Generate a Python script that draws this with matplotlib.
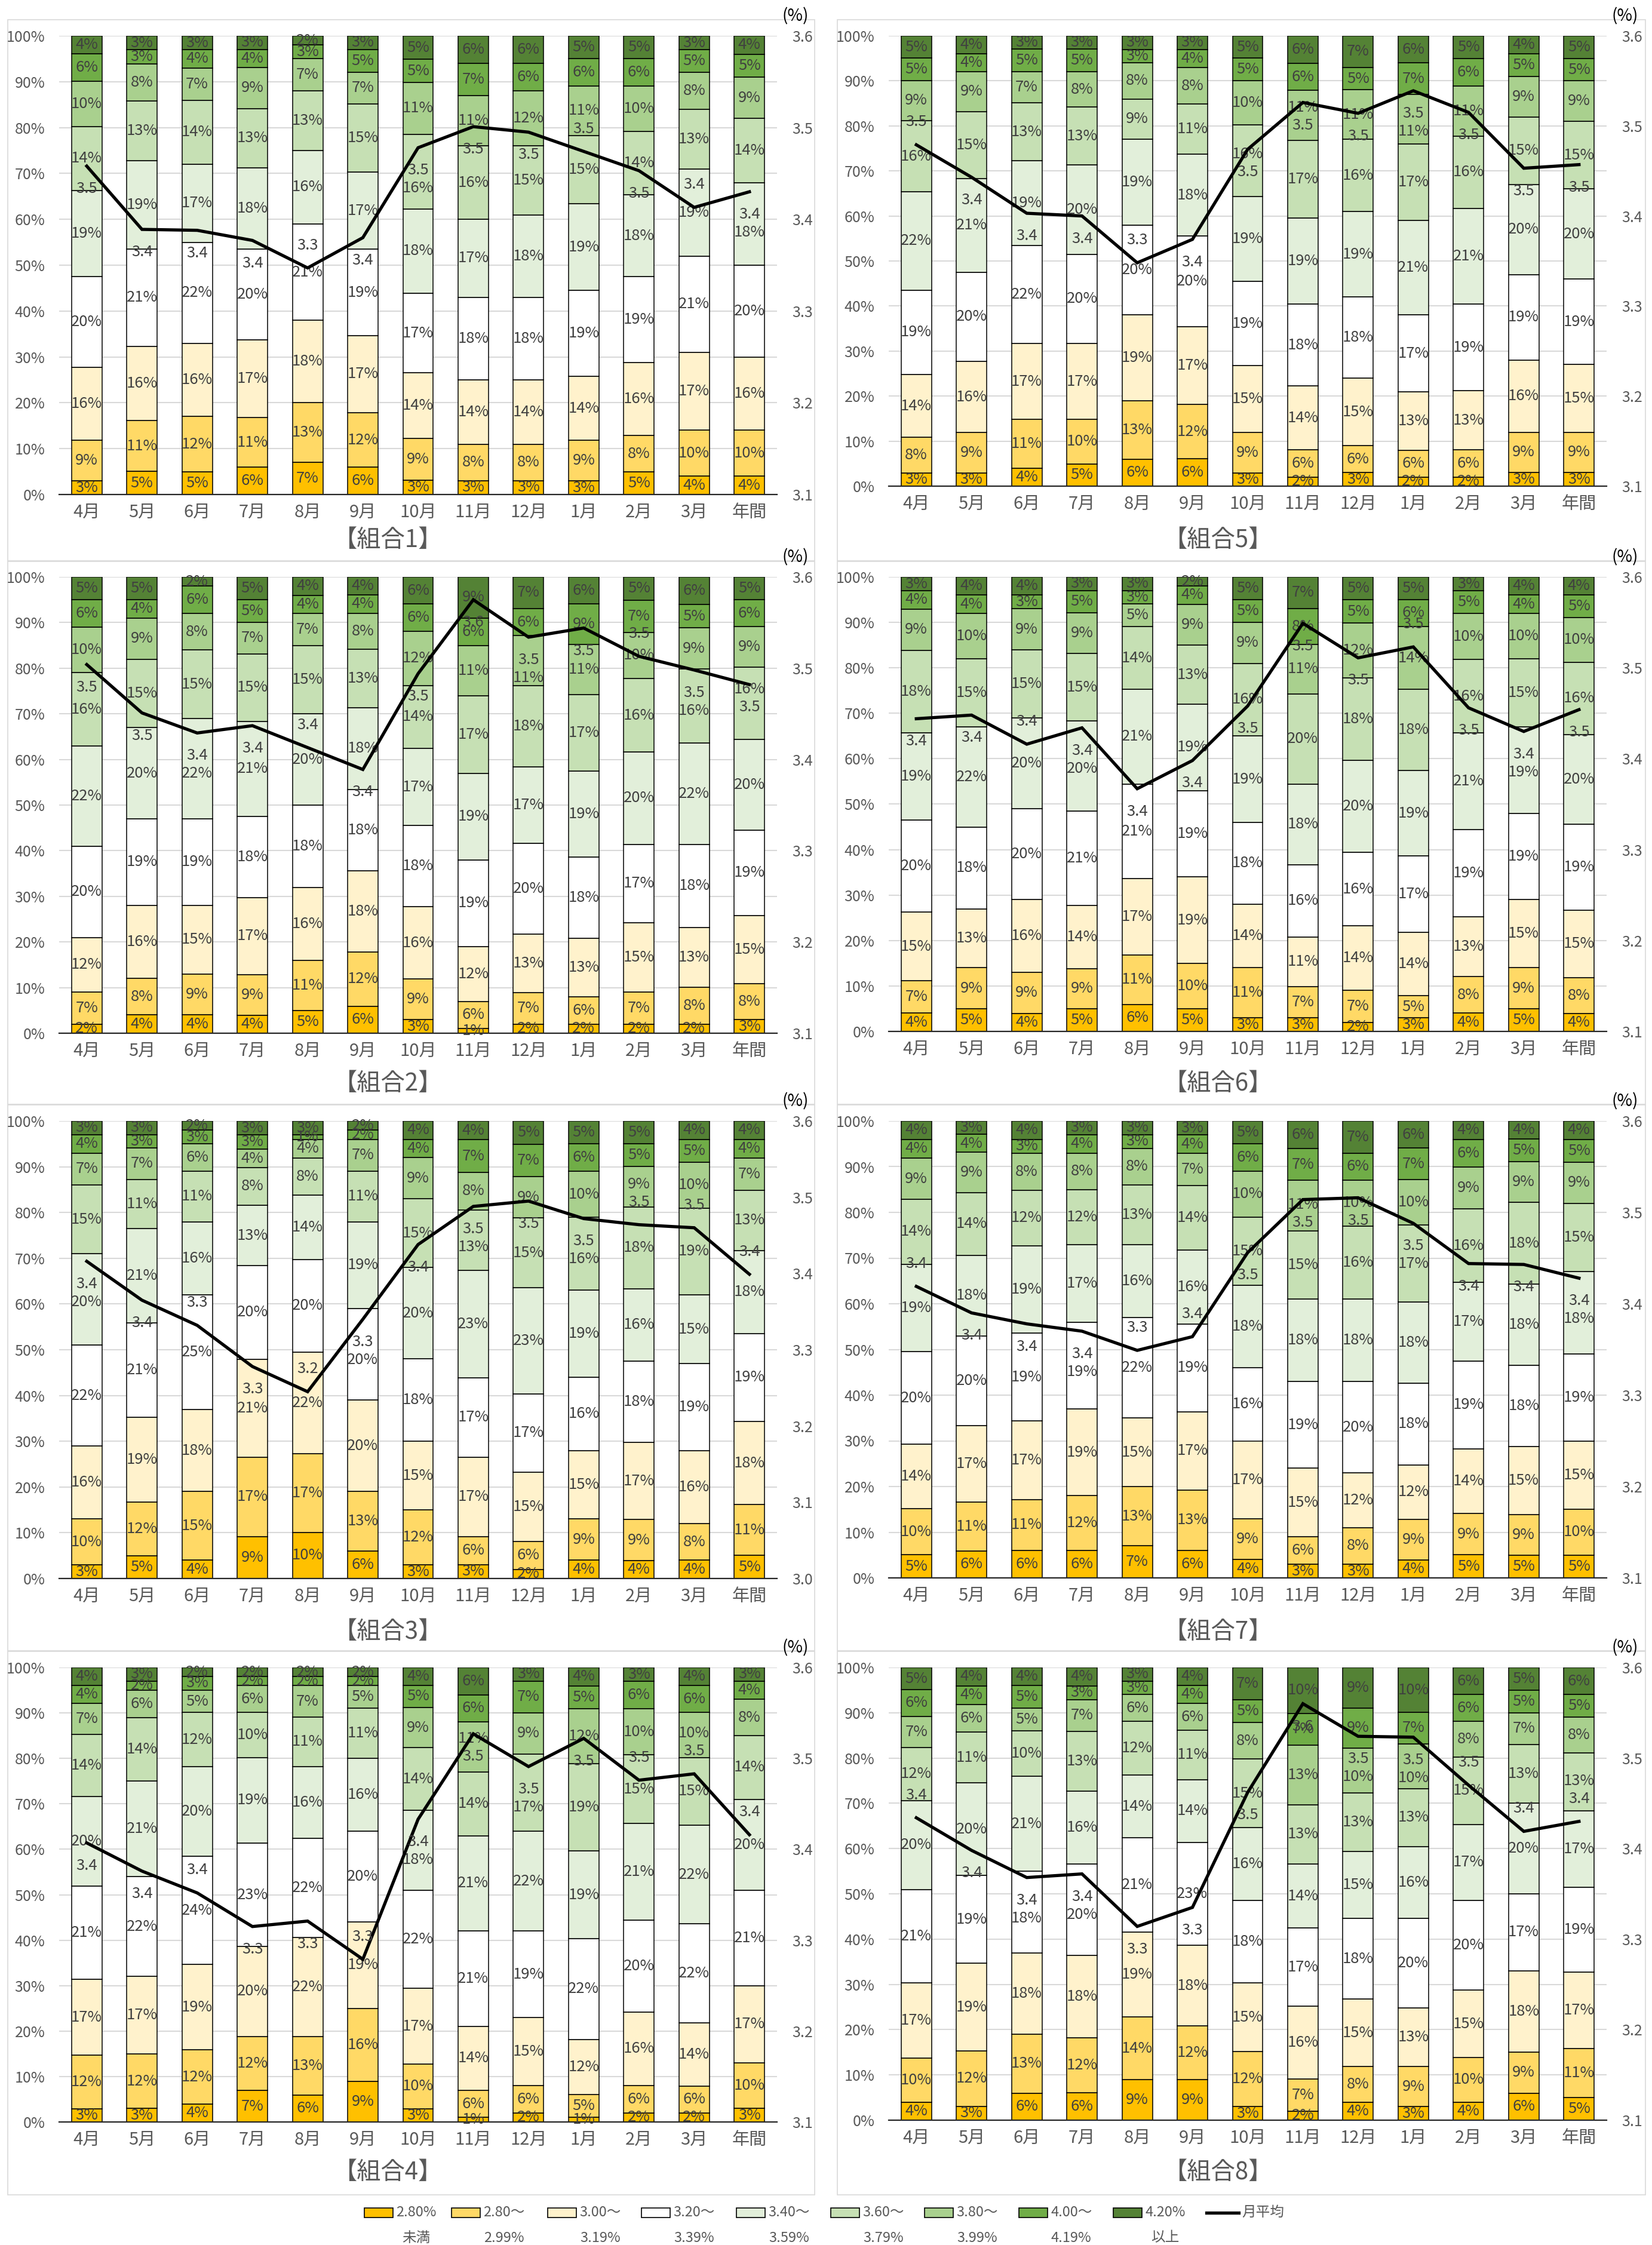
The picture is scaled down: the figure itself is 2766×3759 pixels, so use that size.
import numpy as np
import matplotlib
matplotlib.use("Agg")
import matplotlib.pyplot as plt
from matplotlib.patches import Rectangle
from matplotlib.lines import Line2D
from matplotlib.ticker import FuncFormatter, MultipleLocator

plt.rcParams['font.family'] = ['Noto Sans CJK JP', 'DejaVu Sans']

W, H = 2766, 3759

months = ["4月", "5月", "6月", "7月", "8月", "9月", "10月", "11月", "12月",
          "1月", "2月", "3月", "年間"]

band_labels = ["2.80%\n未満", "2.80～\n2.99%", "3.00～\n3.19%", "3.20～\n3.39%",
               "3.40～\n3.59%", "3.60～\n3.79%", "3.80～\n3.99%", "4.00～\n4.19%",
               "4.20%\n以上"]
band_colors = ["#FFC000", "#FFD966", "#FFF2CC", "#FFFFFF", "#E2EFDA",
               "#C6E0B4", "#A9D08E", "#70AD47", "#548235"]
line_label = "月平均"

# share of each rate band (%), one row per month, bands from low to high
k1_share = [[3, 9, 16, 20, 19, 14, 10, 6, 4],
            [5, 11, 16, 21, 19, 13, 8, 3, 3],
            [5, 12, 16, 22, 17, 14, 7, 4, 3],
            [6, 11, 17, 20, 18, 13, 9, 4, 3],
            [7, 13, 18, 21, 16, 13, 7, 3, 2],
            [6, 12, 17, 19, 17, 15, 7, 5, 3],
            [3, 9, 14, 17, 18, 16, 11, 5, 5],
            [3, 8, 14, 18, 17, 16, 11, 7, 6],
            [3, 8, 14, 18, 18, 15, 12, 6, 6],
            [3, 9, 14, 19, 19, 15, 11, 6, 5],
            [5, 8, 16, 19, 18, 14, 10, 6, 5],
            [4, 10, 17, 21, 19, 13, 8, 5, 3],
            [4, 10, 16, 20, 18, 14, 9, 5, 4]]
k1_avg = [3.458, 3.389, 3.388, 3.377, 3.347, 3.380, 3.478, 3.501, 3.495,
          3.474, 3.453, 3.413, 3.430]

k2_share = [[2, 7, 12, 20, 22, 16, 10, 6, 5],
            [4, 8, 16, 19, 20, 15, 9, 4, 5],
            [4, 9, 15, 19, 22, 15, 8, 6, 2],
            [4, 9, 17, 18, 21, 15, 7, 5, 5],
            [5, 11, 16, 18, 20, 15, 7, 4, 4],
            [6, 12, 18, 18, 18, 13, 8, 4, 4],
            [3, 9, 16, 18, 17, 14, 12, 6, 6],
            [1, 6, 12, 19, 19, 17, 11, 6, 9],
            [2, 7, 13, 20, 17, 18, 11, 6, 7],
            [2, 6, 13, 18, 19, 17, 11, 9, 6],
            [2, 7, 15, 17, 20, 16, 10, 7, 5],
            [2, 8, 13, 18, 22, 16, 9, 5, 6],
            [3, 8, 15, 19, 20, 16, 9, 6, 5]]
k2_avg = [3.504, 3.451, 3.429, 3.437, 3.413, 3.389, 3.494, 3.575, 3.534,
          3.544, 3.513, 3.498, 3.482]

k3_share = [[3, 10, 16, 22, 20, 15, 7, 4, 3],
            [5, 12, 19, 21, 21, 11, 7, 3, 3],
            [4, 15, 18, 25, 16, 11, 6, 3, 2],
            [9, 17, 21, 20, 13, 8, 4, 3, 3],
            [10, 17, 22, 20, 14, 8, 4, 1, 3],
            [6, 13, 20, 20, 19, 11, 7, 2, 2],
            [3, 12, 15, 18, 20, 15, 9, 4, 4],
            [3, 6, 17, 17, 23, 13, 8, 7, 4],
            [2, 6, 15, 17, 23, 15, 9, 7, 5],
            [4, 9, 15, 16, 19, 16, 10, 6, 5],
            [4, 9, 17, 18, 16, 18, 9, 5, 5],
            [4, 8, 16, 19, 15, 19, 10, 5, 4],
            [5, 11, 18, 19, 18, 13, 7, 4, 4]]
k3_avg = [3.416, 3.365, 3.332, 3.278, 3.245, 3.340, 3.438, 3.488, 3.495,
          3.472, 3.464, 3.460, 3.399]

k4_share = [[3, 12, 17, 21, 20, 14, 7, 4, 4],
            [3, 12, 17, 22, 21, 14, 6, 2, 3],
            [4, 12, 19, 24, 20, 12, 5, 3, 2],
            [7, 12, 20, 23, 19, 10, 6, 2, 2],
            [6, 13, 22, 22, 16, 11, 7, 2, 2],
            [9, 16, 19, 20, 16, 11, 5, 2, 2],
            [3, 10, 17, 22, 18, 14, 9, 5, 4],
            [1, 6, 14, 21, 21, 14, 11, 6, 6],
            [2, 6, 15, 19, 22, 17, 9, 7, 3],
            [1, 5, 12, 22, 19, 19, 12, 5, 4],
            [2, 6, 16, 20, 21, 15, 10, 6, 3],
            [2, 6, 14, 22, 22, 15, 10, 6, 4],
            [3, 10, 17, 21, 20, 14, 8, 4, 3]]
k4_avg = [3.407, 3.376, 3.352, 3.315, 3.321, 3.279, 3.433, 3.527, 3.491,
          3.522, 3.476, 3.483, 3.416]

k5_share = [[3, 8, 14, 19, 22, 16, 9, 5, 5],
            [3, 9, 16, 20, 21, 15, 9, 4, 4],
            [4, 11, 17, 22, 19, 13, 7, 5, 3],
            [5, 10, 17, 20, 20, 13, 8, 5, 3],
            [6, 13, 19, 20, 19, 9, 8, 3, 3],
            [6, 12, 17, 20, 18, 11, 8, 4, 3],
            [3, 9, 15, 19, 19, 16, 10, 5, 5],
            [2, 6, 14, 18, 19, 17, 11, 6, 6],
            [3, 6, 15, 18, 19, 16, 11, 5, 7],
            [2, 6, 13, 17, 21, 17, 11, 7, 6],
            [2, 6, 13, 19, 21, 16, 11, 6, 5],
            [3, 9, 16, 19, 20, 15, 9, 5, 4],
            [3, 9, 15, 19, 20, 15, 9, 5, 5]]
k5_avg = [3.479, 3.443, 3.403, 3.400, 3.348, 3.374, 3.474, 3.526, 3.514,
          3.539, 3.515, 3.453, 3.457]

k6_share = [[4, 7, 15, 20, 19, 18, 9, 4, 3],
            [5, 9, 13, 18, 22, 15, 10, 4, 4],
            [4, 9, 16, 20, 20, 15, 9, 3, 4],
            [5, 9, 14, 21, 20, 15, 9, 5, 3],
            [6, 11, 17, 21, 21, 14, 5, 3, 3],
            [5, 10, 19, 19, 19, 13, 9, 4, 2],
            [3, 11, 14, 18, 19, 16, 9, 5, 5],
            [3, 7, 11, 16, 18, 20, 11, 8, 7],
            [2, 7, 14, 16, 20, 18, 12, 5, 5],
            [3, 5, 14, 17, 19, 18, 14, 6, 5],
            [4, 8, 13, 19, 21, 16, 10, 5, 3],
            [5, 9, 15, 19, 19, 15, 10, 4, 4],
            [4, 8, 15, 19, 20, 16, 10, 5, 4]]
k6_avg = [3.444, 3.448, 3.416, 3.434, 3.367, 3.398, 3.458, 3.549, 3.511,
          3.523, 3.456, 3.430, 3.454]

k7_share = [[5, 10, 14, 20, 19, 14, 9, 4, 4],
            [6, 11, 17, 20, 18, 14, 9, 4, 3],
            [6, 11, 17, 19, 19, 12, 8, 3, 4],
            [6, 12, 19, 19, 17, 12, 8, 4, 3],
            [7, 13, 15, 22, 16, 13, 8, 3, 3],
            [6, 13, 17, 19, 16, 14, 7, 4, 3],
            [4, 9, 17, 16, 18, 15, 10, 6, 5],
            [3, 6, 15, 19, 18, 15, 11, 7, 6],
            [3, 8, 12, 20, 18, 16, 10, 6, 7],
            [4, 9, 12, 18, 18, 17, 10, 7, 6],
            [5, 9, 14, 19, 17, 16, 9, 6, 4],
            [5, 9, 15, 18, 18, 18, 9, 5, 4],
            [5, 10, 15, 19, 18, 15, 9, 5, 4]]
k7_avg = [3.419, 3.390, 3.378, 3.370, 3.349, 3.364, 3.456, 3.514, 3.516,
          3.488, 3.444, 3.443, 3.428]

k8_share = [[4, 10, 17, 21, 20, 12, 7, 6, 5],
            [3, 12, 19, 19, 20, 11, 6, 4, 4],
            [6, 13, 18, 18, 21, 10, 5, 5, 4],
            [6, 12, 18, 20, 16, 13, 7, 3, 4],
            [9, 14, 19, 21, 14, 12, 6, 3, 3],
            [9, 12, 18, 23, 14, 11, 6, 4, 4],
            [3, 12, 15, 18, 16, 15, 8, 5, 7],
            [2, 7, 16, 17, 14, 13, 13, 7, 10],
            [4, 8, 15, 18, 15, 13, 10, 9, 9],
            [3, 9, 13, 20, 16, 13, 10, 7, 10],
            [4, 10, 15, 20, 17, 15, 8, 6, 6],
            [6, 9, 18, 17, 20, 13, 7, 5, 5],
            [5, 11, 17, 19, 17, 13, 8, 5, 6]]
k8_avg = [3.434, 3.398, 3.368, 3.372, 3.314, 3.335, 3.462, 3.560, 3.524,
          3.523, 3.470, 3.419, 3.430]

titles = ["【組合1】", "【組合2】", "【組合3】", "【組合4】",
          "【組合5】", "【組合6】", "【組合7】", "【組合8】"]
shares = [k1_share, k2_share, k3_share, k4_share,
          k5_share, k6_share, k7_share, k8_share]
avgs = [k1_avg, k2_avg, k3_avg, k4_avg, k5_avg, k6_avg, k7_avg, k8_avg]
right_ranges = [(3.1, 3.6), (3.1, 3.6), (3.0, 3.6), (3.1, 3.6),
                (3.1, 3.6), (3.1, 3.6), (3.1, 3.6), (3.1, 3.6)]

# placement of the average labels: 'a' above the point, 'b' below
label_side = ["bbbbabbbbabab", "bbbbabbbbbabb", "bbababbbbbaaa", "bbabbabbbbaaa",
              "abbbabbbbbbbb", "bbabbbbbbabbb", "abbbaabbbbbbb", "abbbbbbbbbaaa"]

# ---- layout (pixels) ----
col_x = [(99, 1301), (1488, 2690)]
rows_y = [[(60, 828), (966, 1730), (1877, 2643), (2792, 3553)],
          [(60, 814), (966, 1727), (1877, 2642), (2792, 3550)]]
title_x = [649, 2039]
title_y = [904, 1814, 2732, 3637]
frame_x = [(13, 1364), (1402, 2755)]
frame_y = [(33, 939), (940, 1849), (1850, 2764), (2765, 3675)]
LABEL_OFFSET = 38   # px between a point and its average label
MIN_GAP = 30        # px kept between an average label and a segment label

TXT = "#404040"
AX_TXT = "#595959"
GRID = "#D9D9D9"

fig = plt.figure(figsize=(W / 100, H / 100), dpi=100)

over = fig.add_axes([0, 0, 1, 1])
over.set_xlim(0, W)
over.set_ylim(H, 0)
over.axis("off")

for c in range(2):
    for r in range(4):
        fx0, fx1 = frame_x[c]
        fy0, fy1 = frame_y[r]
        over.add_patch(Rectangle((fx0, fy0), fx1 - fx0, fy1 - fy0, fill=False,
                                 edgecolor=GRID, lw=1.2))

x = np.arange(len(months))
for p in range(8):
    c, r = divmod(p, 4)
    x0, x1 = col_x[c]
    top, bot = rows_y[c][r]
    px_per_pct = (bot - top) / 100.0
    ax = fig.add_axes([x0 / W, 1 - bot / H, (x1 - x0) / W, (bot - top) / H])
    ax.set_xlim(-0.5, len(months) - 0.5)
    ax.set_ylim(0, 100)
    lo, hi = right_ranges[p]

    # where each average label sits, in percent units of the bar axis
    avg_lab = []
    for i, v in enumerate(avgs[p]):
        sgn = 1 if label_side[p][i] == "a" else -1
        avg_lab.append((v - lo) / (hi - lo) * 100 + sgn * LABEL_OFFSET / px_per_pct)
    gap = MIN_GAP / px_per_pct

    raw = np.array(shares[p], dtype=float)
    pct = raw / raw.sum(axis=1, keepdims=True) * 100
    base = np.zeros(len(months))
    for k in range(len(band_colors)):
        h = pct[:, k]
        ax.bar(x, h, 0.55, bottom=base, color=band_colors[k], edgecolor="black",
               linewidth=1.1, zorder=2)
        for i in range(len(months)):
            yc = base[i] + h[i] / 2
            d = yc - avg_lab[i]
            if abs(d) < gap and h[i] > 2 * gap:
                yc = avg_lab[i] + (gap if d >= 0 else -gap)
                yc = min(max(yc, base[i] + 0.3 * gap), base[i] + h[i] - 0.3 * gap)
            ax.text(x[i], yc, f"{int(raw[i, k])}%", ha="center",
                    va="center", fontsize=18.5, color=TXT, zorder=4)
        base += h

    ax.yaxis.set_major_locator(MultipleLocator(10))
    ax.yaxis.set_major_formatter(FuncFormatter(lambda v, _: f"{int(round(v))}%"))
    ax.grid(axis="y", color=GRID, lw=1.5, zorder=0)
    ax.set_axisbelow(True)
    ax.set_xticks(x)
    ax.set_xticklabels(months)
    ax.tick_params(axis="x", length=0, pad=11, labelsize=21, labelcolor=AX_TXT)
    ax.tick_params(axis="y", length=0, pad=17, labelsize=18, labelcolor=AX_TXT)
    for s in ("top", "left", "right"):
        ax.spines[s].set_visible(False)
    ax.spines["bottom"].set_color("#262626")
    ax.spines["bottom"].set_linewidth(1.6)
    ax.spines["bottom"].set_zorder(3)

    ax2 = ax.twinx()
    ax2.set_ylim(lo, hi)
    ax2.yaxis.set_major_locator(MultipleLocator(0.1))
    ax2.yaxis.set_major_formatter(FuncFormatter(lambda v, _: f"{v:.1f}"))
    ax2.tick_params(axis="y", length=0, pad=18, labelsize=18, labelcolor=AX_TXT)
    for s in ax2.spines.values():
        s.set_visible(False)
    ax2.plot(x, avgs[p], color="black", lw=3.8, zorder=5,
             solid_joinstyle="miter")
    for i, v in enumerate(avgs[p]):
        dy = LABEL_OFFSET if label_side[p][i] == "a" else -LABEL_OFFSET
        ax2.annotate(f"{v:.1f}", (x[i], v), xytext=(0, dy),
                     textcoords="offset pixels", ha="center", va="center",
                     fontsize=18.5, color=TXT, zorder=6)

    over.text(title_x[c], title_y[r], titles[p], ha="center", va="center",
              fontsize=29, color=AX_TXT)
    over.text(x1 + 31, top - 33, "(%)", ha="center", va="center",
              fontsize=20, color="black")

# ---- legend ----
patch_left = [610, 756, 917, 1074, 1233, 1391, 1548, 1706, 1864]
leg_y = 3705
for k, lab in enumerate(band_labels):
    px = patch_left[k]
    over.add_patch(Rectangle((px, leg_y - 8), 48, 16, facecolor=band_colors[k],
                             edgecolor="black", lw=1.2))
    first, second = lab.split("\n")
    t1 = over.text(px + 53, leg_y - 1, first, ha="left", va="center",
                   fontsize=17, color=AX_TXT)
    over.annotate(second, xy=(0.5, 0.5), xycoords=t1, xytext=(0, -43),
                  textcoords="offset pixels", ha="center", va="center",
                  fontsize=17, color=AX_TXT)
over.add_line(Line2D([2020, 2074], [leg_y, leg_y], color="black", lw=3.8))
over.text(2079, leg_y - 1, line_label, ha="left", va="center", fontsize=17,
          color=AX_TXT)

fig.savefig("out.png", dpi=100)
